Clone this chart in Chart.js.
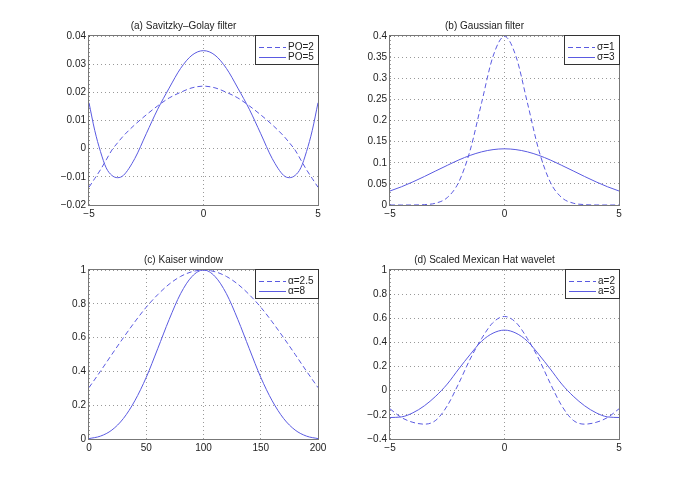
<!DOCTYPE html>
<html>
<head>
<meta charset="utf-8">
<script src="https://cdn.jsdelivr.net/npm/chart.js@4.4.1/dist/chart.umd.min.js"></script>
<style>
  body { margin: 0; background: #fff; }
  canvas { position: absolute; }
</style>
</head>
<body>
<canvas id="chartA" width="281" height="203" style="left:49px;top:20px"></canvas>
<canvas id="chartB" width="281" height="203" style="left:350px;top:20px"></canvas>
<canvas id="chartC" width="281" height="203" style="left:49px;top:254px"></canvas>
<canvas id="chartD" width="281" height="203" style="left:350px;top:254px"></canvas>
<script>
// (a) Savitzky-Golay filter
const xA = [-5, -4.75, -4.5, -4.25, -4, -3.75, -3.5, -3, -2.5, -2, -1.5, -1, -0.5, 0,
  0.5, 1, 1.5, 2, 2.5, 3, 3.5, 3.75, 4, 4.25, 4.5, 4.75, 5];
const po2 = [-0.0137, -0.0106, -0.0075, -0.0040, -0.0005, 0.0021, 0.0045, 0.0085, 0.0120, 0.0152, 0.0180, 0.0200, 0.0216, 0.0222,
  0.0216, 0.0200, 0.0180, 0.0152, 0.0120, 0.0085, 0.0045, 0.0021, -0.0005, -0.0040, -0.0075, -0.0106, -0.0137];
const po5 = [0.0163, 0.0065, -0.0010, -0.0068, -0.0095, -0.0103, -0.0095, -0.0035, 0.0053, 0.0140, 0.0215, 0.0285, 0.0332, 0.0348,
  0.0332, 0.0285, 0.0215, 0.0140, 0.0053, -0.0035, -0.0095, -0.0103, -0.0095, -0.0068, -0.0010, 0.0065, 0.0163];
const xTicksA = [-5, 0, 5];
const yTicksA = [-0.02, -0.01, 0, 0.01, 0.02, 0.03, 0.04];

// (b) Gaussian filter
const xB = [-5, -4.5, -4, -3.5, -3, -2.5, -2, -1.5, -1, -0.5, 0, 0.5, 1, 1.5, 2, 2.5, 3, 3.5, 4, 4.5, 5];
const sigma1 = [0, 0, 0.0001, 0.0009, 0.0044, 0.0175, 0.054, 0.1295, 0.242, 0.352, 0.399,
  0.352, 0.242, 0.1295, 0.054, 0.0175, 0.0044, 0.0009, 0.0001, 0, 0];
const sigma3 = [0.0332, 0.0431, 0.0547, 0.0674, 0.0807, 0.0938, 0.1065, 0.1174, 0.1258, 0.1311, 0.133,
  0.1311, 0.1258, 0.1174, 0.1065, 0.0938, 0.0807, 0.0674, 0.0547, 0.0431, 0.0332];
const xTicksB = [-5, 0, 5];
const yTicksB = [0, 0.05, 0.1, 0.15, 0.2, 0.25, 0.3, 0.35, 0.4];

// (c) Kaiser window
const xC = [0, 10, 20, 30, 40, 50, 60, 70, 80, 90, 100, 110, 120, 130, 140, 150, 160, 170, 180, 190, 200];
const alpha25 = [0.304, 0.401, 0.501, 0.599, 0.693, 0.780, 0.854, 0.916, 0.962, 0.990, 1,
  0.990, 0.962, 0.916, 0.854, 0.780, 0.693, 0.599, 0.501, 0.401, 0.304];
const alpha8 = [0.0023, 0.017, 0.053, 0.121, 0.226, 0.365, 0.534, 0.707, 0.860, 0.962, 1,
  0.962, 0.860, 0.707, 0.534, 0.365, 0.226, 0.121, 0.053, 0.017, 0.0023];
const xTicksC = [0, 50, 100, 150, 200];
const yTicksC = [0, 0.2, 0.4, 0.6, 0.8, 1];

// (d) Scaled Mexican Hat wavelet
const xD = [-5, -4.5, -4, -3.5, -3, -2.5, -2, -1.5, -1, -0.5, 0, 0.5, 1, 1.5, 2, 2.5, 3, 3.5, 4, 4.5, 5];
const a2 = [-0.150, -0.222, -0.262, -0.277, -0.245, -0.125, 0.060, 0.262, 0.432, 0.565, 0.615,
  0.565, 0.432, 0.262, 0.060, -0.125, -0.245, -0.277, -0.262, -0.222, -0.150];
const a3 = [-0.222, -0.217, -0.183, -0.125, -0.045, 0.055, 0.180, 0.300, 0.410, 0.477, 0.502,
  0.477, 0.410, 0.300, 0.180, 0.055, -0.045, -0.125, -0.183, -0.217, -0.222];
const xTicksD = [-5, 0, 5];
const yTicksD = [-0.4, -0.2, 0, 0.2, 0.4, 0.6, 0.8, 1];

const FONT = '"Liberation Sans", Arial, Helvetica, sans-serif';
const BLUE = 'rgb(90, 90, 225)';
Chart.defaults.color = '#222';
Chart.defaults.font.family = FONT;
Chart.defaults.font.size = 10;

const fmt = v => String(v).replace('-', '\u2212');

// box around the plot area, like matlab's "box on"
const frame = {
  id: 'frame',
  afterDatasetsDraw(chart) {
    const a = chart.chartArea, ctx = chart.ctx;
    ctx.save();
    ctx.strokeStyle = '#777';
    ctx.lineWidth = 1;
    ctx.strokeRect(Math.round(a.left) - 0.5, Math.round(a.top) - 0.5, Math.round(a.right - a.left) + 1, Math.round(a.bottom - a.top) + 1);
    ctx.restore();
  }
};

// legend in the top right corner, inside the axes
const boxLegend = {
  id: 'boxLegend',
  afterDraw(chart) {
    const a = chart.chartArea, ctx = chart.ctx;
    const sets = chart.data.datasets;
    ctx.save();
    ctx.font = '10px ' + FONT;
    const tw = Math.max(...sets.map(d => ctx.measureText(d.label).width));
    const w = Math.round(4 + 27 + 2 + tw + 4), h = 29;
    const x0 = Math.round(a.right) - w, y0 = Math.round(a.top);
    ctx.fillStyle = '#fff';
    ctx.fillRect(x0, y0, w, h);
    ctx.strokeStyle = '#333';
    ctx.lineWidth = 1;
    ctx.strokeRect(x0 + 0.5, y0 - 0.5, w, h);
    sets.forEach((d, i) => {
      const y = y0 + 10.5 + i * 10.5;
      ctx.strokeStyle = d.borderColor;
      ctx.setLineDash(d.borderDash || []);
      ctx.beginPath();
      ctx.moveTo(x0 + 4, Math.round(y) + 0.5);
      ctx.lineTo(x0 + 31, Math.round(y) + 0.5);
      ctx.stroke();
      ctx.setLineDash([]);
      ctx.fillStyle = '#222';
      ctx.textBaseline = 'middle';
      ctx.textAlign = 'left';
      ctx.fillText(d.label, x0 + 33, y + 0.5);
    });
    ctx.restore();
  }
};

function makePanel(id, title, xs, series, labels, xTicks, yTicks) {
  const datasets = series.map((vals, i) => ({
    label: labels[i],
    data: xs.map((x, j) => ({ x: x, y: vals[j] })),
    borderColor: BLUE,
    borderWidth: 1,
    borderDash: i === 0 ? [5, 3] : [],
    pointRadius: 0,
    cubicInterpolationMode: 'monotone',
    fill: false
  }));
  const axis = (ticks, isX) => ({
    type: 'linear',
    min: ticks[0],
    max: ticks[ticks.length - 1],
    afterBuildTicks: s => { s.ticks = ticks.map(v => ({ value: v })); },
    afterFit: s => {
      if (isX) { s.height = 18; } else { s.width = 40; }
    },
    ticks: { autoSkip: false, maxRotation: 0, padding: 3, callback: v => fmt(v), font: { size: 10 } },
    grid: { color: 'rgba(0,0,0,0.4)', lineWidth: 1, drawTicks: false },
    border: { display: false, dash: [1, 3] }
  });
  return new Chart(document.getElementById(id), {
    type: 'line',
    data: { datasets: datasets },
    options: {
      responsive: false,
      animation: false,
      devicePixelRatio: 1,
      layout: { padding: { left: 0, right: 12, top: 0, bottom: 0 } },
      scales: { x: axis(xTicks, true), y: axis(yTicks, false) },
      plugins: {
        legend: { display: false },
        tooltip: { enabled: false },
        title: {
          display: true,
          text: title,
          color: '#222',
          font: { size: 10, weight: 'normal', lineHeight: 1.2 },
          padding: { top: 0, bottom: 4 }
        }
      }
    },
    plugins: [frame, boxLegend]
  });
}

makePanel('chartA', '(a) Savitzky\u2013Golay filter', xA, [po2, po5], ['PO=2', 'PO=5'], xTicksA, yTicksA);
makePanel('chartB', '(b) Gaussian filter', xB, [sigma1, sigma3], ['\u03c3=1', '\u03c3=3'], xTicksB, yTicksB);
makePanel('chartC', '(c) Kaiser window', xC, [alpha25, alpha8], ['\u03b1=2.5', '\u03b1=8'], xTicksC, yTicksC);
makePanel('chartD', '(d) Scaled Mexican Hat wavelet', xD, [a2, a3], ['a=2', 'a=3'], xTicksD, yTicksD);
</script>
</body>
</html>
